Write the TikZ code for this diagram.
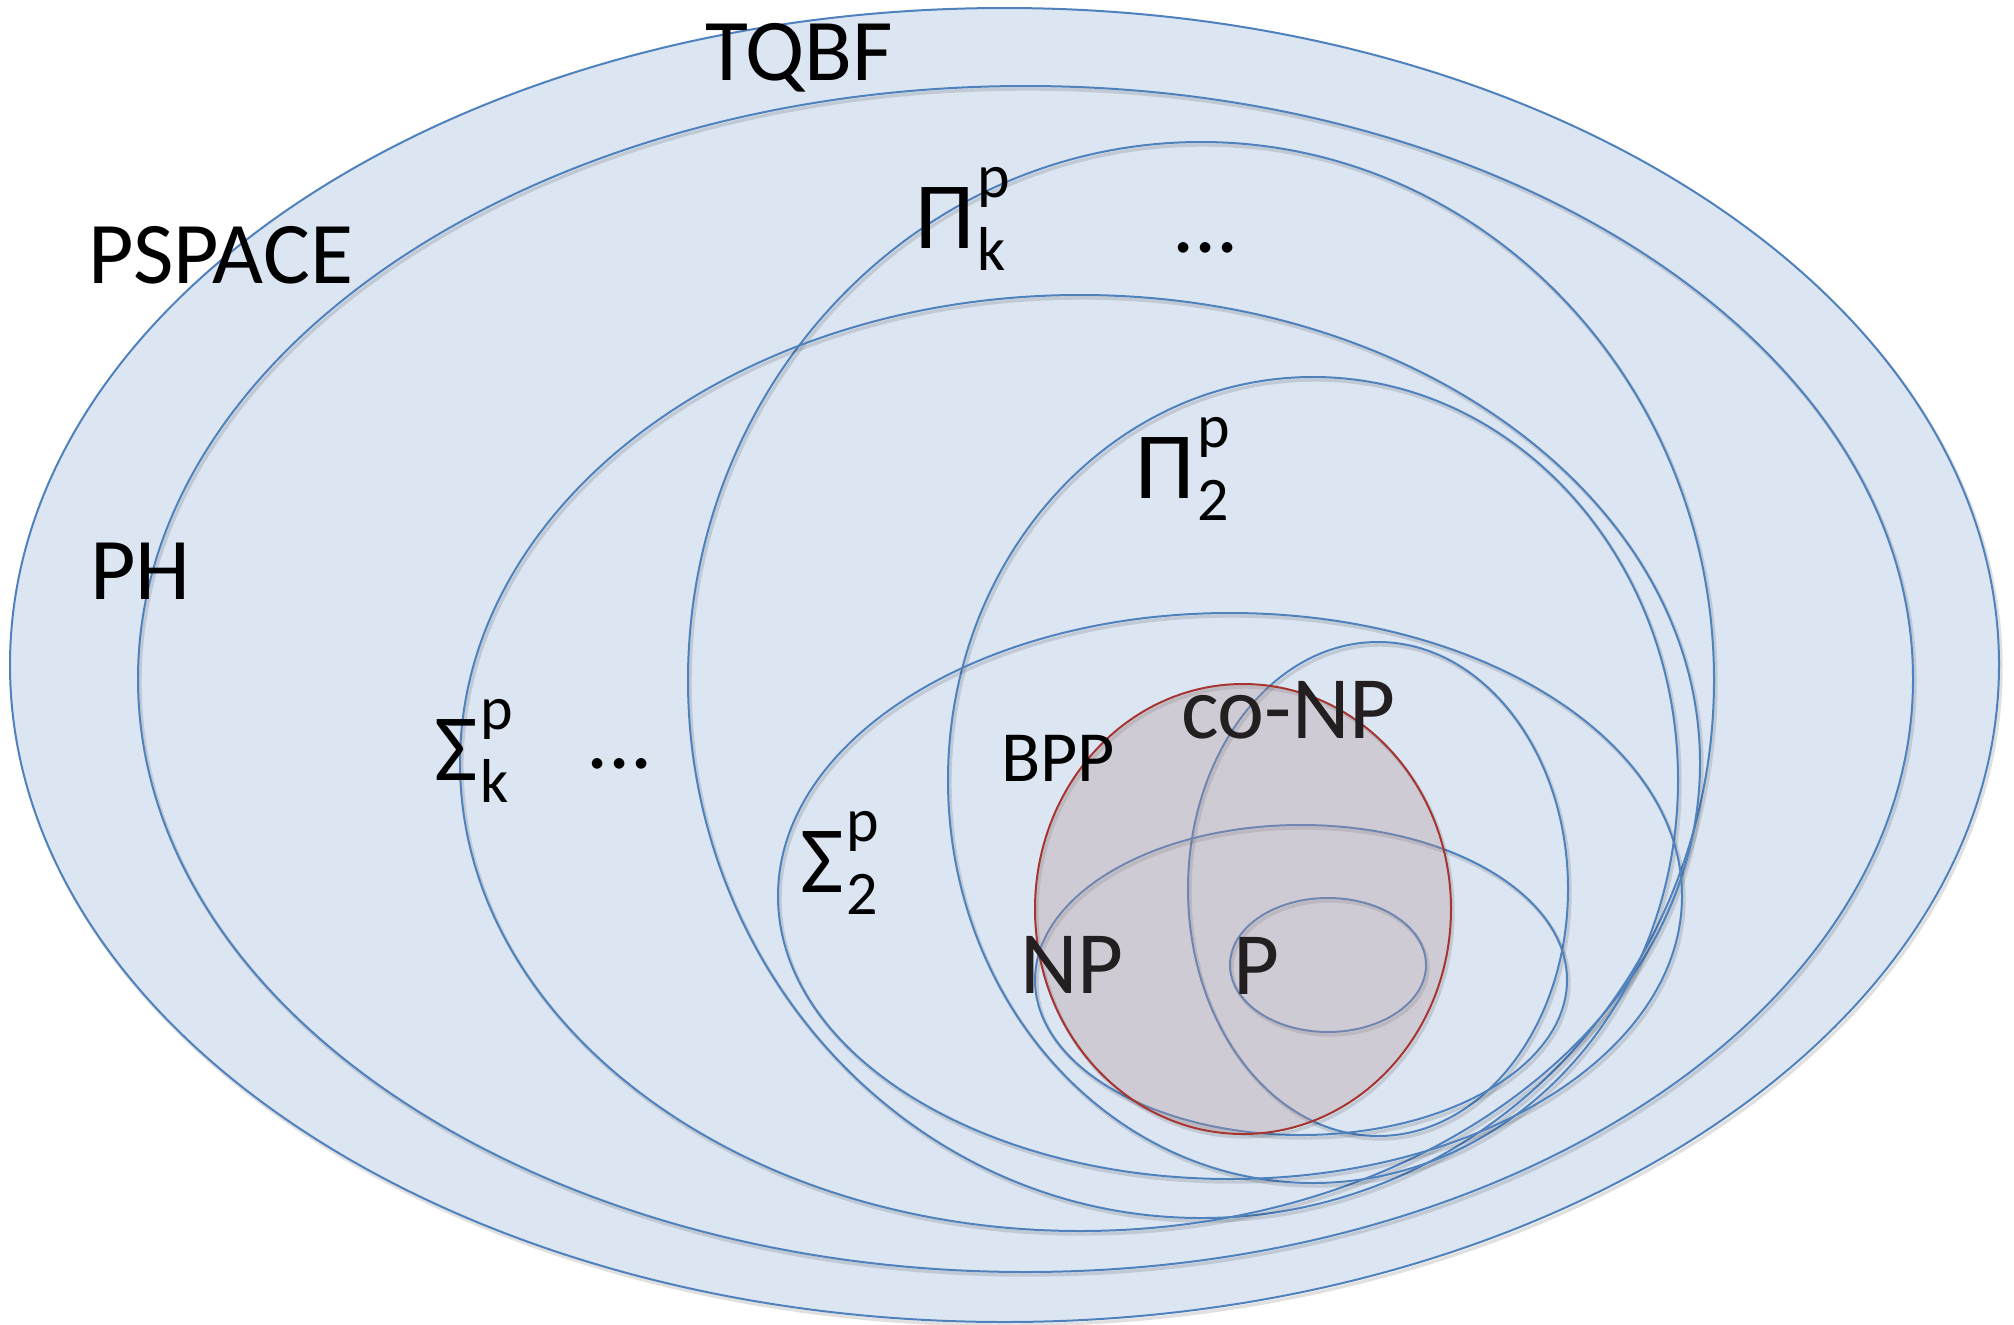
\documentclass[tikz,border=0pt]{standalone}
\usepackage{fontspec}
\setmainfont{Carlito}
\usetikzlibrary{shapes.geometric}
\definecolor{setline}{RGB}{79,129,189}
\definecolor{setfill}{RGB}{220,230,242}
\definecolor{bppline}{RGB}{166,52,48}
\definecolor{bppfill}{RGB}{180,147,152}
\definecolor{darktext}{RGB}{35,31,32}
\newcommand\hierlabel[3]{{\fontsize{47.5}{50}\selectfont #1}\kern1.5pt{\fontsize{31}{32}\selectfont\rlap{\raisebox{25.5pt}{#2}}\raisebox{-11pt}{#3}}}
\begin{document}
\begin{tikzpicture}[x=0.5pt,y=-0.5pt,
  cls/.style args={#1/#2}{ellipse, minimum width=#1pt, minimum height=#2pt,
    inner sep=0pt, outer sep=0pt, draw=setline, line width=1pt,
    preaction={draw=black, draw opacity=0.12, line width=1.7pt,
      transform canvas={xshift=1pt,yshift=-1.5pt}}},
  lbl/.style={anchor=base west, inner sep=0pt, outer sep=0pt, text=black,
    font=\fontsize{44}{50}\selectfont},
  lblbig/.style={lbl, text=darktext, font=\fontsize{44.5}{50}\selectfont},
  lblsmall/.style={lbl, font=\fontsize{36}{40}\selectfont}]
\fill[white] (0,0) rectangle (2014,1324);
\useasboundingbox (0,0) rectangle (2014,1324);
% ellipses (cls = x radius / y radius in pixels)
\node[cls=994.5/657, fill=setfill] (pspace) at (1004.5,665) {};
\node[cls=887.5/593] (ph)    at (1025.5,679) {};
\node[cls=513/538]   (pik)   at (1201,680) {};
\node[cls=620/468]   (sigk)  at (1080,763) {};
\node[cls=365/403]   (pi2)   at (1313,780) {};
\node[cls=452/283]   (sig2)  at (1230,896) {};
\node[cls=190/247]   (conp)  at (1378,889) {};
\node[cls=266/155]   (np)    at (1301,980) {};
\node[cls=98/67]     (p)     at (1328,965) {};
\node[cls=208/225, draw=bppline, fill=bppfill, fill opacity=0.32] (bpp) at (1243,909) {};
% labels
\node[lbl] (tqbflbl)   at (705,80)  {TQBF};
\node[lbl] (pspacelbl) at (88,283)  {PSPACE};
\node[lbl] (phlbl)     at (90,599)  {PH};
\node[lbl] (piklbl)    at (915,248) {\hierlabel{Π}{p}{k}};
\node[lbl] (dotsup)    at (1172,252) {...};
\node[lbl] (pi2lbl)    at (1135,498) {\hierlabel{Π}{p}{2}};
\node[lbl] (sigklbl)   at (434,780) {\hierlabel{Σ}{p}{k}};
\node[lbl] (dotslow)   at (586,768) {...};
\node[lbl] (sig2lbl)   at (800,892) {\hierlabel{Σ}{p}{2}};
\node[lblsmall] (bpplbl) at (1001,781) {BPP};
\node[lblbig] (conplbl) at (1181,738) {co-NP};
\node[lblbig] (nplbl)   at (1020,993) {NP};
\node[lblbig] (plbl)    at (1233,994) {P};
\end{tikzpicture}
\end{document}
